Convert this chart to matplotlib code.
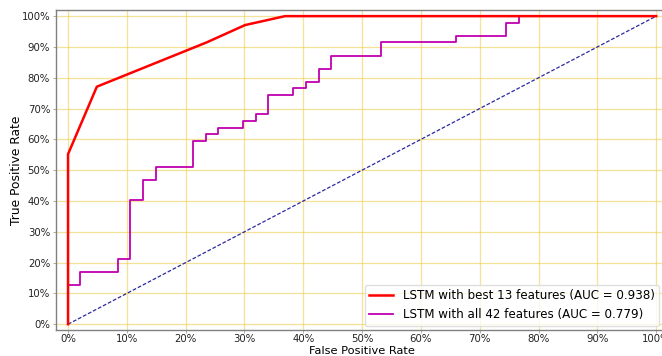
import matplotlib
matplotlib.use("Agg")
import matplotlib.pyplot as plt
from matplotlib.ticker import PercentFormatter

# ROC curve: LSTM with the best 13 features
fpr_best = [0.0, 0.0, 0.049, 0.236, 0.301, 0.369, 1.0]
tpr_best = [0.0, 0.552, 0.771, 0.915, 0.971, 1.0, 1.0]

# ROC curve: LSTM with all 42 features (step points)
fpr_all = [0.0, 0.0, 0.021, 0.021, 0.085, 0.085, 0.106, 0.106, 0.128, 0.128,
           0.149, 0.149, 0.213, 0.213, 0.234, 0.234, 0.255, 0.255, 0.298, 0.298,
           0.319, 0.319, 0.340, 0.340, 0.383, 0.383, 0.404, 0.404, 0.426, 0.426,
           0.447, 0.447, 0.532, 0.532, 0.660, 0.660, 0.745, 0.745, 0.766, 0.766,
           1.0]
tpr_all = [0.0, 0.128, 0.128, 0.170, 0.170, 0.213, 0.213, 0.404, 0.404, 0.468,
           0.468, 0.511, 0.511, 0.596, 0.596, 0.617, 0.617, 0.638, 0.638, 0.660,
           0.660, 0.681, 0.681, 0.745, 0.745, 0.766, 0.766, 0.787, 0.787, 0.830,
           0.830, 0.872, 0.872, 0.915, 0.915, 0.936, 0.936, 0.979, 0.979, 1.0,
           1.0]

label_best = "LSTM with best 13 features (AUC = 0.938)"
label_all = "LSTM with all 42 features (AUC = 0.779)"

fig = plt.figure(figsize=(6.62, 3.56), dpi=100)
ax = fig.add_axes([0.085, 0.072, 0.924, 0.900])

ax.plot(fpr_best, tpr_best, color="red", lw=1.8, label=label_best, zorder=4)
ax.plot(fpr_all, tpr_all, color="#c000b0", lw=1.3, label=label_all, zorder=3)
ax.plot([0, 1], [0, 1], color="#2a2aa0", lw=0.9, ls=(0, (3, 1.5)), zorder=2)

ax.set_xlim(-0.02, 1.02)
ax.set_ylim(-0.02, 1.02)
ax.set_xticks([i / 10 for i in range(11)])
ax.set_yticks([i / 10 for i in range(11)])
ax.xaxis.set_major_formatter(PercentFormatter(1.0, decimals=0))
ax.yaxis.set_major_formatter(PercentFormatter(1.0, decimals=0))
ax.tick_params(length=2, width=0.6, color="#a0a0a0", labelsize=7.3,
               labelcolor="#222222", pad=2.5)
ax.tick_params(axis="x", pad=0.8)

ax.grid(True, color="#f0cf50", lw=0.9, alpha=0.6)
ax.set_axisbelow(True)

for side in ("left", "bottom", "top", "right"):
    ax.spines[side].set_color("#808080")
    ax.spines[side].set_linewidth(1.0)

ax.set_xlabel("False Positive Rate", fontsize=8.2, va="bottom")
ax.set_ylabel("True Positive Rate", fontsize=8.8)
ax.xaxis.set_label_coords(0.499, -0.079)
ax.yaxis.set_label_coords(-0.054, 0.5)

leg = ax.legend(loc="lower right", fontsize=8.6, frameon=True,
                bbox_to_anchor=(0.993, 0.0), borderaxespad=0.35,
                handlelength=2.0)
leg.get_frame().set_edgecolor("#d8d8d8")

fig.savefig("out.png", dpi=100)
